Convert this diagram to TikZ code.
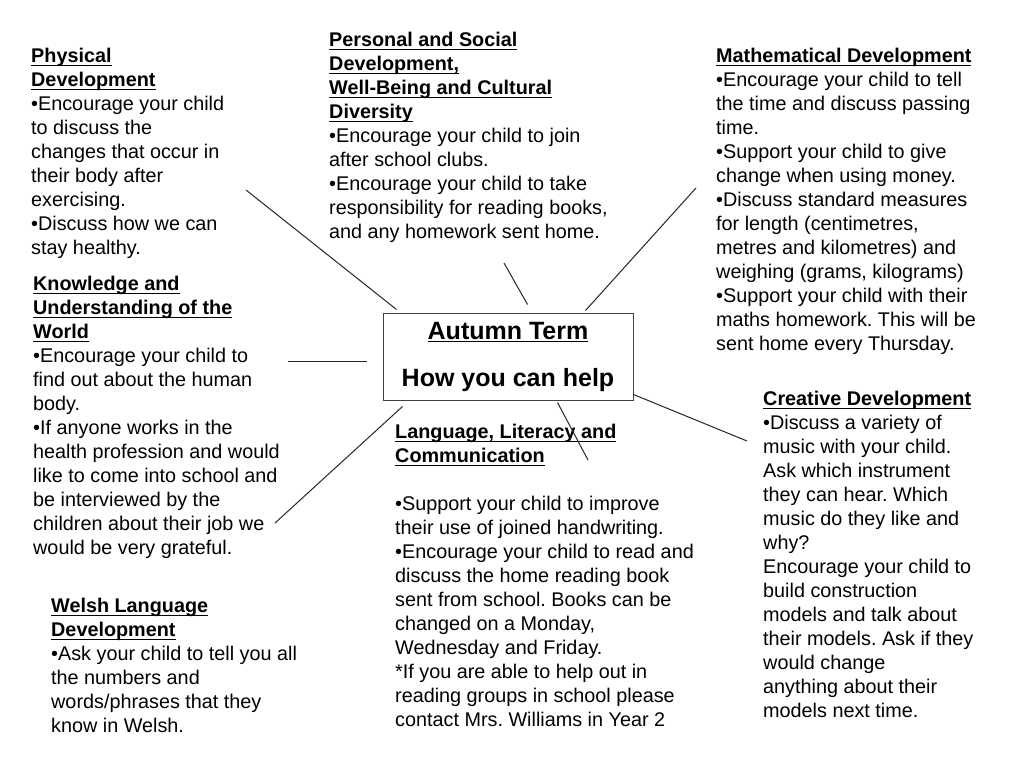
\documentclass[tikz,border=0pt]{standalone}
\usepackage{fontspec}
\setmainfont{Liberation Sans}
\usepackage{tikz}
\usetikzlibrary{positioning, calc}
\frenchspacing

\newsavebox{\ulbox}
\newcommand{\ulline}[1]{\sbox{\ulbox}{#1}\rlap{\rule[-3.4pt]{\wd\ulbox}{1.1pt}}\usebox{\ulbox}}
\newcommand{\ulhead}[1]{\ulline{\textbf{#1}}}

\begin{document}
\begin{tikzpicture}[
    x=1pt, y=-1pt,
    note/.style={anchor=north west, inner sep=0pt, align=left, font=\fontsize{19.8}{24}\selectfont},
    hub/.style={draw=black!75, line width=1pt, minimum width=250pt, minimum height=87pt, inner sep=0pt, align=center, font=\fontsize{25}{47}\selectfont\bfseries},
    link/.style={draw=black!85, line width=1pt},
]
\useasboundingbox[fill=white] (0,0) rectangle (1024,768);

% centre box
\node[hub] (centre) at (508,356.5) {\ulline{Autumn Term}\\How you can help};

% areas of learning
\node[note] (phys) at (31,47.8) {\ulhead{Physical}\\\ulhead{Development}\\%
  •Encourage your child\\to discuss the\\changes that occur in\\their body after\\exercising.\\%
  •Discuss how we can\\stay healthy.};
\node[note] (pers) at (329,31.8) {\ulhead{Personal and Social}\\\ulhead{Development,}\\%
  \ulhead{Well-Being and Cultural}\\\ulhead{Diversity}\\%
  •Encourage your child to join\\after school clubs.\\%
  •Encourage your child to take\\responsibility for reading books,\\and any homework sent home.};
\node[note] (math) at (716,47.8) {\ulhead{Mathematical Development}\\%
  •Encourage your child to tell\\the time and discuss passing\\time.\\%
  •Support your child to give\\change when using money.\\%
  •Discuss standard measures\\for length (centimetres,\\metres and kilometres) and\\weighing (grams, kilograms)\\%
  •Support your child with their\\maths homework. This will be\\sent home every Thursday.};
\node[note] (know) at (33,275.8) {\ulhead{Knowledge and}\\\ulhead{Understanding of the}\\\ulhead{World}\\%
  •Encourage your child to\\find out about the human\\body.\\%
  •If anyone works in the\\health profession and would\\like to come into school and\\be interviewed by the\\children about their job we\\would be very grateful.};
\node[note] (crea) at (763,390.8) {\ulhead{Creative Development}\\%
  •Discuss a variety of\\music with your child.\\Ask which instrument\\they can hear. Which\\music do they like and\\why?\\%
  Encourage your child to\\build construction\\models and talk about\\their models. Ask if they\\would change\\anything about their\\models next time.};
\node[note] (lang) at (395,423.8) {\ulhead{Language, Literacy and}\\\ulhead{Communication}\\[24pt]%
  •Support your child to improve\\their use of joined handwriting.\\%
  •Encourage your child to read and\\discuss the home reading book\\sent from school. Books can be\\changed on a Monday,\\Wednesday and Friday.\\%
  *If you are able to help out in\\reading groups in school please\\contact Mrs. Williams in Year 2};
\node[note] (wels) at (51,597.8) {\ulhead{Welsh Language}\\\ulhead{Development}\\%
  •Ask your child to tell you all\\the numbers and\\words/phrases that they\\know in Welsh.};

% spokes
\coordinate (phys-end) at (246,190);
\coordinate (pers-end) at (504,263);
\coordinate (math-end) at (696,188);
\coordinate (know-end) at (288,361);
\coordinate (crea-end) at (747,441);
\coordinate (lang-end) at (588,460);
\coordinate (wels-end) at (275,523);

\draw[link] (phys-end) -- ([xshift=14pt,yshift=3pt]centre.north west);
\draw[link] (pers-end) -- ([xshift=145pt,yshift=8pt]centre.north west);
\draw[link] (math-end) -- ([xshift=-48pt,yshift=2pt]centre.north east);
\draw[link] (know-end) -- ([xshift=-16pt,yshift=-4.5pt]centre.west);
\draw[link] (crea-end) -- ([yshift=6pt]centre.south east);
\draw[link] (lang-end) -- ([xshift=-76pt,yshift=-2pt]centre.south east);
\draw[link] (wels-end) -- ([xshift=20pt,yshift=-6pt]centre.south west);

\end{tikzpicture}
\end{document}
